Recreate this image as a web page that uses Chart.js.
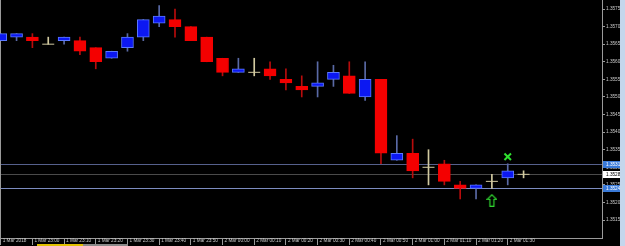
<!DOCTYPE html>
<html>
<head>
<meta charset="utf-8">
<script src="https://cdn.jsdelivr.net/npm/chart.js@4.4.1/dist/chart.umd.min.js"></script>
<style>
    html, body { margin: 0; padding: 0; background: #000; }
    #wrap { position: relative; width: 625px; height: 246px; overflow: hidden; background: #000; }
    #edge { position: absolute; right: 0; top: 0; width: 5px; height: 246px; background: #c4d6ec; }
    #tabA { position: absolute; left: 37px; top: 244px; width: 46px; height: 2px; background: #e0c000; }
    #tabB { position: absolute; left: 83px; top: 244px; width: 45px; height: 2px; background: #8a8a8a; }
</style>
</head>
<body>
<div id="wrap">
    <canvas id="chart" width="625" height="246"></canvas>
    <div id="edge"></div>
    <div id="tabA"></div>
    <div id="tabB"></div>
</div>
<script>
// ── Data (M5 candles, 1 Mar 22:50 .. 2 Mar 01:35) ─────────
const openP  = [1.3566, 1.3567, 1.3567, 1.3565, 1.3566, 1.3566, 1.3564, 1.3561, 1.3564, 1.3567, 1.3571, 1.3572, 1.3570, 1.3567, 1.3561, 1.3557, 1.3557, 1.3558, 1.3555, 1.3553, 1.3553, 1.3555, 1.3556, 1.3550, 1.3555, 1.3532, 1.3534, 1.3530, 1.3531, 1.3525, 1.3524, 1.3526, 1.3527, 1.3528];
const highP  = [1.3568, 1.3568, 1.3568, 1.3567, 1.3567, 1.3567, 1.3564, 1.3563, 1.3568, 1.3572, 1.3576, 1.3575, 1.3570, 1.3567, 1.3561, 1.3561, 1.3561, 1.3560, 1.3558, 1.3556, 1.3560, 1.3559, 1.3560, 1.3560, 1.3555, 1.3539, 1.3538, 1.3535, 1.3532, 1.3526, 1.3525, 1.3528, 1.3531, 1.3529];
const lowP   = [1.3566, 1.3566, 1.3564, 1.3565, 1.3565, 1.3562, 1.3558, 1.3561, 1.3563, 1.3566, 1.3570, 1.3567, 1.3566, 1.3560, 1.3556, 1.3557, 1.3556, 1.3555, 1.3552, 1.3550, 1.3550, 1.3553, 1.3551, 1.3549, 1.3531, 1.3532, 1.3527, 1.3525, 1.3525, 1.3521, 1.3521, 1.3524, 1.3525, 1.3527];
const closeP = [1.3568, 1.3568, 1.3566, 1.3565, 1.3567, 1.3563, 1.3560, 1.3563, 1.3567, 1.3572, 1.3573, 1.3570, 1.3566, 1.3560, 1.3557, 1.3558, 1.3557, 1.3556, 1.3554, 1.3552, 1.3554, 1.3557, 1.3551, 1.3555, 1.3534, 1.3534, 1.3529, 1.3530, 1.3526, 1.3524, 1.3525, 1.3526, 1.3529, 1.3528];

const timeTickIndex = [0, 2, 4, 6, 8, 10, 12, 14, 16, 18, 20, 22, 24, 26, 28, 30, 32];
const timeTickText = [
    '1 Mar 2018', '1 Mar 23:00', '1 Mar 23:10', '1 Mar 23:20', '1 Mar 23:30', '1 Mar 23:40',
    '1 Mar 23:50', '2 Mar 00:00', '2 Mar 00:10', '2 Mar 00:20', '2 Mar 00:30', '2 Mar 00:40',
    '2 Mar 00:50', '2 Mar 01:00', '2 Mar 01:10', '2 Mar 01:20', '2 Mar 01:30',
];
const priceTicks = [1.3515, 1.3520, 1.3525, 1.3530, 1.3535, 1.3540, 1.3545, 1.3550, 1.3555, 1.3560, 1.3565, 1.3570, 1.3575];

// horizontal levels + their price tags on the right axis
const levelPrices = [1.3531, 1.3528, 1.3524];
const levelLines  = ['#56608c', '#4a4a4a', '#7c8cc0'];
const levelTagBg  = ['#3a7ad8', '#ffffff', '#3a7ad8'];
const levelTagFg  = ['#ffffff', '#000000', '#ffffff'];

// signal markers
const crossIndex = [32];
const crossPrice = [1.3533];
const arrowIndex = [31];
const arrowPrice = [1.35206];

// ── Colors ──────────────────────────────────────────────────
const BULL = '#0c18f2';
const BULL_EDGE = '#5a78ff';
const BEAR = '#f40000';
const WICK_BULL = '#5a6aa6';
const WICK_BEAR = '#b80c0c';
const DOJI = '#d2caa0';
const AXIS = '#9a9a9a';
const TEXT = '#c8c8c8';
const FONT = { family: 'Liberation Sans', size: 4.7 };

function kind(i) {
    if (closeP[i] > openP[i]) return 'bull';
    if (closeP[i] < openP[i]) return 'bear';
    return 'doji';
}

const wickData = openP.map((_, i) => ({ x: i, y: [lowP[i], highP[i]] }));
const bodyData = openP.map((o, i) => kind(i) === 'doji' ? { x: i, y: null } : { x: i, y: [o, closeP[i]] });
const dojiData = openP.map((o, i) => ({ x: i, y: kind(i) === 'doji' ? closeP[i] : null }));

function arrowImage() {
    const c = document.createElement('canvas');
    c.width = 11; c.height = 13;
    const g = c.getContext('2d');
    g.strokeStyle = '#2fd42f';
    g.lineWidth = 1.2;
    g.beginPath();
    g.moveTo(5.5, 0.8); g.lineTo(10.2, 5.5); g.lineTo(7.5, 5.5); g.lineTo(7.5, 12.3);
    g.lineTo(3.5, 12.3); g.lineTo(3.5, 5.5); g.lineTo(0.8, 5.5); g.closePath();
    g.stroke();
    return c;
}

// ── Levels, frame and price tags ────────────────────────────
const mt4Plugin = {
    id: 'mt4',
    beforeDatasetsDraw(chart) {
        const { ctx, chartArea, scales: { y } } = chart;
        ctx.save();
        ctx.lineWidth = 1;
        levelPrices.forEach((p, i) => {
            const py = Math.round(y.getPixelForValue(p)) + 0.5;
            ctx.strokeStyle = levelLines[i];
            ctx.beginPath();
            ctx.moveTo(chartArea.left, py);
            ctx.lineTo(chartArea.right, py);
            ctx.stroke();
        });
        ctx.strokeStyle = AXIS;
        ctx.beginPath();
        ctx.moveTo(chartArea.left + 0.5, chartArea.top);
        ctx.lineTo(chartArea.left + 0.5, chartArea.bottom);
        ctx.stroke();
        ctx.restore();
    },
    afterDraw(chart) {
        const { ctx, chartArea, scales: { y } } = chart;
        ctx.save();
        ctx.font = `${FONT.size}px ${FONT.family}`;
        ctx.textBaseline = 'middle';
        levelPrices.forEach((p, i) => {
            const py = Math.round(y.getPixelForValue(p));
            ctx.fillStyle = levelTagBg[i];
            ctx.fillRect(chartArea.right + 1, py - 3, 17, 7);
            ctx.fillStyle = levelTagFg[i];
            ctx.fillText(p.toFixed(4), chartArea.right + 4, py + 0.5);
        });
        ctx.restore();
    },
};

new Chart(document.getElementById('chart'), {
    type: 'bar',
    data: {
        datasets: [
            {
                type: 'line',
                data: crossIndex.map((x, i) => ({ x, y: crossPrice[i] })),
                showLine: false,
                pointStyle: 'crossRot',
                pointRadius: 4.6,
                pointBorderWidth: 2,
                pointBorderColor: '#2fe02f',
                order: 0,
            },
            {
                type: 'line',
                data: arrowIndex.map((x, i) => ({ x, y: arrowPrice[i] })),
                showLine: false,
                pointStyle: arrowImage(),
                order: 0,
            },
            {
                type: 'line',
                data: dojiData,
                showLine: false,
                pointStyle: 'line',
                pointRadius: 6,
                pointBorderWidth: 1,
                pointBorderColor: DOJI,
                order: 1,
            },
            {
                data: bodyData,
                grouped: false,
                barThickness: 12,
                borderWidth: 1,
                borderSkipped: false,
                backgroundColor: ctx => kind(ctx.dataIndex) === 'bull' ? BULL : BEAR,
                borderColor: ctx => kind(ctx.dataIndex) === 'bull' ? BULL_EDGE : BEAR,
                order: 2,
            },
            {
                data: wickData,
                grouped: false,
                barThickness: 1,
                borderWidth: 0,
                backgroundColor: ctx => {
                    const k = kind(ctx.dataIndex);
                    return k === 'bull' ? WICK_BULL : k === 'bear' ? WICK_BEAR : DOJI;
                },
                order: 3,
            },
        ],
    },
    options: {
        responsive: false,
        animation: false,
        events: [],
        layout: { padding: 0, autoPadding: false },
        plugins: { legend: { display: false }, tooltip: { enabled: false } },
        scales: {
            x: {
                type: 'linear',
                position: 'bottom',
                offset: false,
                min: -0.045,
                max: 37.95,
                afterBuildTicks: s => { s.ticks = timeTickIndex.map(v => ({ value: v })); },
                afterFit: s => { s.height = 8; s.paddingLeft = 0; s.paddingRight = 0; },
                ticks: {
                    autoSkip: false,
                    maxRotation: 0,
                    minRotation: 0,
                    align: 'start',
                    labelOffset: 2,
                    padding: -7,
                    color: TEXT,
                    font: FONT,
                    callback: v => timeTickText[timeTickIndex.indexOf(v)],
                },
                grid: { offset: false, drawOnChartArea: false, tickLength: 7, color: AXIS },
                border: { color: AXIS },
            },
            y: {
                type: 'linear',
                position: 'right',
                min: 1.35099,
                max: 1.357756,
                afterBuildTicks: s => { s.ticks = priceTicks.map(v => ({ value: v })); },
                afterFit: s => { s.width = 23; s.paddingTop = 0; s.paddingBottom = 0; },
                ticks: {
                    padding: 1,
                    color: TEXT,
                    font: FONT,
                    callback: v => v.toFixed(4),
                },
                grid: { drawOnChartArea: false, tickLength: 3, color: AXIS },
                border: { color: AXIS },
            },
        },
    },
    plugins: [mt4Plugin],
});
</script>
</body>
</html>
